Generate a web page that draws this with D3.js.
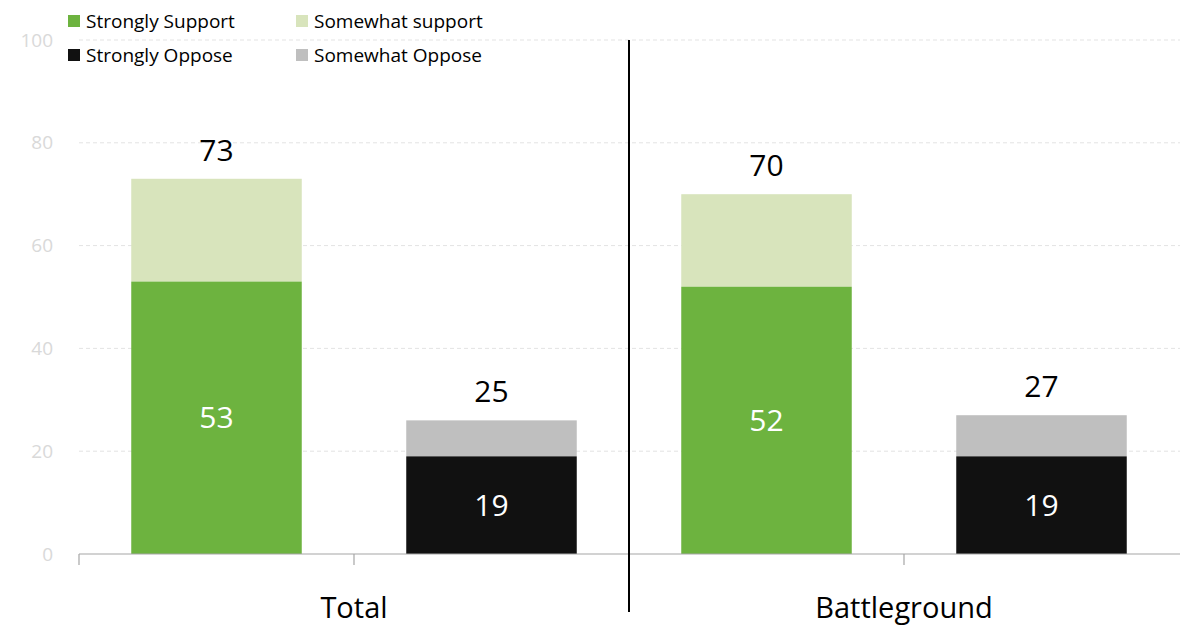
<!DOCTYPE html>
<html><head><meta charset="utf-8">
<script src="https://cdn.jsdelivr.net/npm/d3@7"></script>
<style>body{margin:0;background:#fff}svg{display:block;font-family:"Open Sans",Lato,sans-serif}</style>
</head><body><svg id="c" width="1181" height="625"></svg>
<script>
const groups = ["Total", "Battleground"];
const sides = ["Support", "Oppose"];
const strongly = [[53, 19], [52, 19]];
const somewhat = [[20, 7], [18, 8]];
const totalLabels = [[73, 25], [70, 27]];
const yTicks = [0, 20, 40, 60, 80, 100];
const legendItems = ["Strongly Support", "Somewhat support", "Strongly Oppose", "Somewhat Oppose"];
const strongColors = ["#6db33f", "#111111"];
const weakColors = ["#d8e4bc", "#bfbfbf"];
const legendColors = ["#6db33f", "#d8e4bc", "#111111", "#bfbfbf"];

const svg = d3.select("#c");
const y = d3.scaleLinear().domain([0, 100]).range([554, 40]);
const xg = d3.scaleBand().domain(groups).range([79, 1179]).padding(0);
const xs = d3.scaleBand().domain(sides).range([0, xg.bandwidth()]).paddingInner(0.38).paddingOuter(0.19);

// gridlines
svg.append("g").selectAll("line").data(yTicks.filter(d => d > 0)).join("line")
  .attr("x1", 79).attr("x2", 1180).attr("y1", d => y(d)).attr("y2", d => y(d))
  .attr("stroke", "#e3e3e3").attr("stroke-width", 1).attr("stroke-dasharray", "4,3");

// y tick labels
svg.append("g").selectAll("text").data(yTicks).join("text")
  .attr("x", 53).attr("y", d => y(d)).attr("dy", "0.35em").attr("text-anchor", "end")
  .attr("font-size", 19).attr("fill", "#d9d9d9").text(d => d);

// bars
groups.forEach((g, gi) => {
  const gx = xg(g);
  sides.forEach((s, si) => {
    const x0 = gx + xs(s), w = xs.bandwidth();
    const a = strongly[gi][si], b = somewhat[gi][si];
    svg.append("rect").attr("x", x0).attr("width", w).attr("y", y(a + b)).attr("height", y(a) - y(a + b)).attr("fill", weakColors[si]);
    svg.append("rect").attr("x", x0).attr("width", w).attr("y", y(a)).attr("height", y(0) - y(a)).attr("fill", strongColors[si]);
    svg.append("text").attr("x", x0 + w / 2).attr("y", (y(0) + y(a)) / 2).attr("dy", "0.35em")
      .attr("text-anchor", "middle").attr("font-size", 30).attr("fill", "#fff").text(a);
    svg.append("text").attr("x", x0 + w / 2).attr("y", y(a + b) - 18)
      .attr("text-anchor", "middle").attr("font-size", 30).attr("fill", "#000").text(totalLabels[gi][si]);
  });
});

// x axis
const xa = svg.append("g");
xa.append("line").attr("x1", 79).attr("x2", 1180).attr("y1", y(0)).attr("y2", y(0)).attr("stroke", "#a6a6a6").attr("stroke-width", 1.2);
const tickXs = [79, xg("Total") + xg.bandwidth() / 2, xg("Battleground") + xg.bandwidth() / 2];
xa.selectAll("line.t").data(tickXs).join("line").attr("class", "t")
  .attr("x1", d => d).attr("x2", d => d).attr("y1", y(0)).attr("y2", y(0) + 11).attr("stroke", "#a6a6a6").attr("stroke-width", 1.2);
xa.selectAll("text").data(groups).join("text")
  .attr("x", d => xg(d) + xg.bandwidth() / 2).attr("y", 618).attr("text-anchor", "middle")
  .attr("font-size", 29).attr("fill", "#000").text(d => d);

// divider
svg.append("line").attr("x1", xg("Battleground")).attr("x2", xg("Battleground")).attr("y1", 40).attr("y2", 612)
  .attr("stroke", "#000").attr("stroke-width", 2);

// legend
const lg = svg.append("g");
legendItems.forEach((t, i) => {
  const col = i % 2, row = Math.floor(i / 2);
  const lx = 68 + col * 228, ly = 20 + row * 34;
  lg.append("rect").attr("x", lx).attr("y", ly - 5).attr("width", 12).attr("height", 12).attr("fill", legendColors[i]);
  lg.append("text").attr("x", lx + 18).attr("y", ly + 1).attr("dy", "0.35em").attr("font-size", 19).attr("fill", "#000").text(t);
});
</script></body></html>
